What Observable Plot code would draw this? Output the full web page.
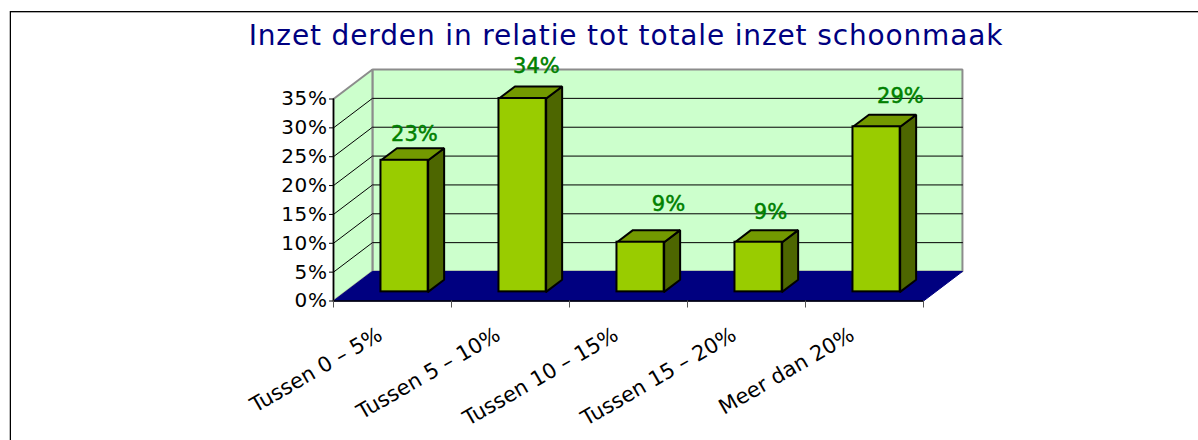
<!DOCTYPE html>
<html><head><meta charset="utf-8">
<script src="https://cdn.jsdelivr.net/npm/d3@7"></script>
<script src="https://cdn.jsdelivr.net/npm/@observablehq/plot@0.6"></script>
<style>
html,body{margin:0;padding:0;background:#fff;overflow:hidden}
#chart{position:relative;width:1198px;height:440px;overflow:hidden}
#chart svg{position:absolute;left:0;top:0;overflow:visible}
#frame{position:absolute;left:10px;top:11px;width:1300px;height:500px;border-left:1px solid #000;border-top:1px solid #000;box-sizing:border-box;box-shadow:-1px 0 0 #bbb, inset 0 1px 0 #aaa}
#ttl{position:absolute;left:0;top:19px;width:1252px;text-align:center;color:#000080;font:28px "DejaVu Sans";letter-spacing:.86px;white-space:nowrap}
#chart svg [aria-label="y-axis tick label"] text{letter-spacing:.6px}
</style></head><body>
<div id="chart"><div id="frame"></div><div id="ttl"></div></div>
<script>
const title = "Inzet derden in relatie tot totale inzet schoonmaak";
const categories = ["Tussen 0 – 5%","Tussen 5 – 10%","Tussen 10 – 15%","Tussen 15 – 20%","Meer dan 20%"];
const values = [22.8,33.5,8.6,8.6,28.6];
const yTicks = [0,5,10,15,20,25,30,35];

document.getElementById("ttl").textContent = title;

// oblique projection: a point (category c, value v, depth z in 0..1) -> plane coordinates
const DX = 0.33, DY = 5.11;
const P = (c,v,z) => ({x:c+DX*z, y:v+DY*z});
const poly = (id,pts) => pts.map(([c,v,z]) => ({id,...P(c,v,z)}));

const barHalf = 0.2, z0 = 0.31, z1 = 0.72;
const n = categories.length;
const wallFill="#CCFFCC", floorFill="#000080", front="#99CC00", topFill="#739900", sideFill="#4D6600";
const gray="#8c8c8c";

const walls = poly("back",[[0,0,1],[n,0,1],[n,35,1],[0,35,1],[0,0,1]]);
const sideWall = poly("side",[[0,0,0],[0,0,1],[0,35,1],[0,35,0],[0,0,0]]);
const floor = poly("floor",[[0,0,0],[n,0,0],[n,0,1],[0,0,1],[0,0,0]]);

const grids = yTicks.filter(t=>t>0&&t<35).flatMap(t=>poly("g"+t,[[0,t,0],[0,t,1],[n,t,1]]));
const tops=[],sides=[],fronts=[];
values.forEach((v,i)=>{
  const a=i+.5-barHalf,b=i+.5+barHalf;
  tops.push(...poly("t"+i,[[a,v,z0],[b,v,z0],[b,v,z1],[a,v,z1],[a,v,z0]]));
  sides.push(...poly("s"+i,[[b,0,z0],[b,0,z1],[b,v,z1],[b,v,z0],[b,0,z0]]));
  const p0=P(a,0,z0),p1=P(b,v,z0);
  fronts.push({x1:p0.x,x2:p1.x,y1:p0.y,y2:p1.y});
});
// label nudges of the original chart (pixels)
const labelNudge=[[-17,1],[-13,-5],[1,-11],[-15,-3],[-3,-3]];
const labelMarks = values.map((v,i)=>{
  const p=P(i+.5,v,1);
  return Plot.text([{x:p.x,y:p.y,t:Math.round(v)+"%"}],{x:"x",y:"y",text:"t",fill:"#008000",stroke:"#008000",strokeWidth:.5,fontSize:21,textAnchor:"middle",lineAnchor:"bottom",dx:labelNudge[i][0],dy:labelNudge[i][1]});
});
const lineOpts={x:"x",y:"y",z:"id",curve:"linear",strokeLinejoin:"miter"};
const plot = Plot.plot({
  width:1198,height:440,
  marginLeft:333,marginRight:275,marginTop:98.5,marginBottom:139.5,
  style:{fontFamily:"DejaVu Sans",background:"transparent",overflow:"visible"},
  x:{domain:[0,n],axis:null},
  y:{domain:[0,35],axis:null},
  marks:[
    Plot.line(walls,{...lineOpts,fill:wallFill,stroke:gray,strokeWidth:2}),
    Plot.line(sideWall,{...lineOpts,fill:wallFill,stroke:gray,strokeWidth:2}),
    Plot.line(floor,{...lineOpts,fill:floorFill,stroke:floorFill,strokeWidth:1}),
    Plot.line(grids,{...lineOpts,stroke:"#000",strokeWidth:1}),
    Plot.line(sideWall.slice(3,5),{x:"x",y:"y",stroke:"#000",strokeWidth:1.5}),
    Plot.ruleY([0],{x1:0,x2:n,stroke:"#000",strokeWidth:1.5}),
    Plot.axisY({ticks:yTicks,tickFormat:d=>d+"%",tickSize:4,tickPadding:2,fontSize:20,stroke:"#000",label:null,anchor:"left"}),
    Plot.axisX({ticks:d3.range(n+1),tickFormat:()=>"",tickSize:7,stroke:"#555",label:null}),
    Plot.axisX({ticks:d3.range(n).map(i=>i+.5),tickFormat:d=>categories[d-.5],tickRotate:-30,tickSize:0,tickPadding:12,fontSize:21,label:null,dx:-12,dy:20}),
    Plot.line(sides,{...lineOpts,fill:sideFill,stroke:"#000",strokeWidth:2}),
    Plot.line(tops,{...lineOpts,fill:topFill,stroke:"#000",strokeWidth:2}),
    Plot.rect(fronts,{x1:"x1",x2:"x2",y1:"y1",y2:"y2",fill:front,stroke:"#000",strokeWidth:2}),
    ...labelMarks
  ]
});
document.getElementById("chart").appendChild(plot);
</script></body></html>
